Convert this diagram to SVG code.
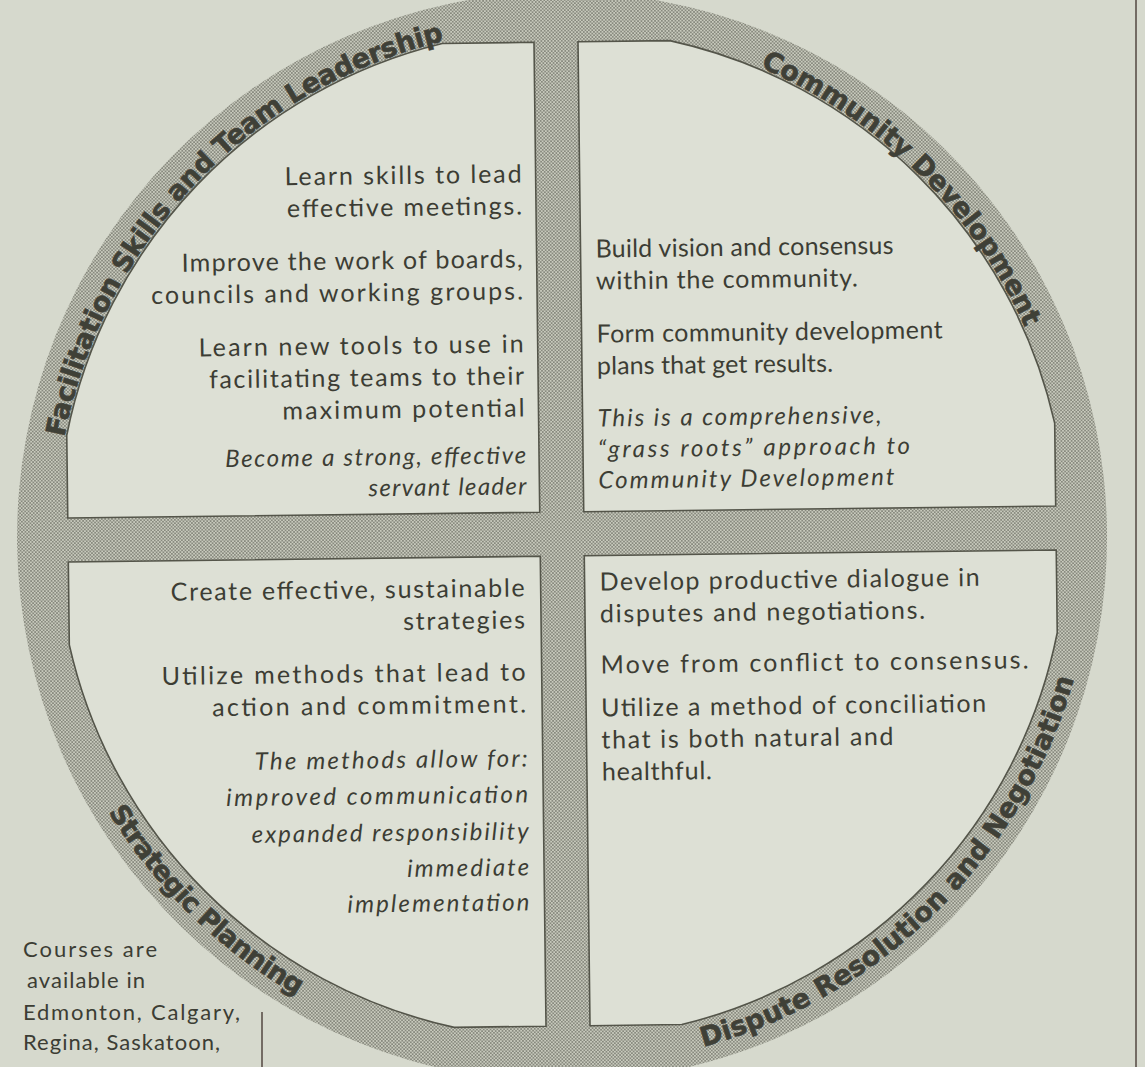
<svg xmlns="http://www.w3.org/2000/svg" xmlns:xlink="http://www.w3.org/1999/xlink" width="1145" height="1067" viewBox="0 0 1145 1067">
  <defs>
    <!-- halftone screen used for the ring -->
    <pattern id="screen" patternUnits="userSpaceOnUse" width="3.4" height="3.4">
      <rect width="3.4" height="3.4" fill="#c8cabd"/>
      <circle cx="0" cy="0" r="0.78" fill="#6b6c62"/>
      <circle cx="3.4" cy="0" r="0.78" fill="#6b6c62"/>
      <circle cx="0" cy="3.4" r="0.78" fill="#6b6c62"/>
      <circle cx="3.4" cy="3.4" r="0.78" fill="#6b6c62"/>
      <circle cx="1.7" cy="1.7" r="0.78" fill="#6b6c62"/>
    </pattern>
    <!-- baselines for the ring titles -->
    <path id="arcTL" d="M 65.5 431.2 A 507 507 0 0 1 452.3 39.0"/>
    <path id="arcTR" d="M 765.8 69.7 A 507 507 0 0 1 1028.0 334.3"/>
    <path id="arcBL" d="M 105.0 806.4 A 532 532 0 0 0 293.2 993.1"/>
    <path id="arcBR" d="M 697.0 1048.6 A 532 532 0 0 0 1072.9 682.4"/>
  </defs>
  <style>
    .quad { fill: #dde0d5; stroke: #54554a; stroke-width: 1.6; }
    .ring-title { font-family: "DejaVu Sans", "Liberation Sans", sans-serif; font-weight: bold; font-size: 27px; fill: #3f4037; stroke: #3f4037; stroke-width: 0.6; }
    .body { font-family: Lato, "Open Sans", "Liberation Sans", sans-serif; font-size: 25px; fill: #3c3d34; }
    .it { font-style: italic; font-size: 24px; }
    .end { text-anchor: end; }
    .note { font-family: Lato, "Open Sans", "Liberation Sans", sans-serif; font-size: 22px; fill: #3c3d34; }
    .rule { stroke: #5b5049; stroke-width: 1.6; fill: none; }
  </style>

  <!-- paper -->
  <rect width="1145" height="1067" fill="#d6d9cd"/>

  <g transform="rotate(-0.7 562 534)">
    <!-- screened disc behind the four panels -->
    <circle id="ring" cx="562" cy="537" r="545" fill="url(#screen)"/>

    <g id="panel-facilitation">
      <path class="quad" d="M 540 42 L 448.2 42 A 505 505 0 0 0 68 429.2 L 68 512 L 540 512 Z"/>
      <text class="ring-title"><textPath xlink:href="#arcTL" textLength="580" lengthAdjust="spacing">Facilitation Skills and Team Leadership</textPath></text>
      <text class="body end" x="526" y="182" textLength="237" lengthAdjust="spacing">Learn skills to lead</text>
      <text class="body end" x="526" y="214" textLength="235" lengthAdjust="spacing">effective meetings.</text>
      <text class="body end" x="526" y="267" textLength="341" lengthAdjust="spacing">Improve the work of boards,</text>
      <text class="body end" x="526" y="299" textLength="372" lengthAdjust="spacing">councils and working groups.</text>
      <text class="body end" x="526" y="352" textLength="325" lengthAdjust="spacing">Learn new tools to use in</text>
      <text class="body end" x="526" y="384" textLength="315" lengthAdjust="spacing">facilitating teams to their</text>
      <text class="body end" x="526" y="416" textLength="242" lengthAdjust="spacing">maximum potential</text>
      <text class="body it end" x="527" y="463" textLength="301" lengthAdjust="spacing">Become a strong, effective</text>
      <text class="body it end" x="527" y="494" textLength="158" lengthAdjust="spacing">servant leader</text>
    </g>

    <g id="panel-community">
      <path class="quad" d="M 584 42 L 675.8 42 A 505 505 0 0 1 1056 429.2 L 1056 512 L 584 512 Z"/>
      <text class="ring-title"><textPath xlink:href="#arcTR" textLength="380" lengthAdjust="spacing">Community Development</textPath></text>
      <text class="body" x="599" y="258" textLength="298" lengthAdjust="spacing">Build vision and consensus</text>
      <text class="body" x="599" y="290" textLength="262" lengthAdjust="spacing">within the community.</text>
      <text class="body" x="599" y="343" textLength="346" lengthAdjust="spacing">Form community development</text>
      <text class="body" x="599" y="375" textLength="236" lengthAdjust="spacing">plans that get results.</text>
      <text class="body it" x="599" y="427" textLength="284" lengthAdjust="spacing">This is a comprehensive,</text>
      <text class="body it" x="599" y="458" textLength="312" lengthAdjust="spacing">“grass roots” approach to</text>
      <text class="body it" x="599" y="489" textLength="296" lengthAdjust="spacing">Community Development</text>
    </g>

    <g id="panel-strategic">
      <path class="quad" d="M 540 556 L 68 556 L 68 638.8 A 505 505 0 0 0 448.2 1026 L 540 1026 Z"/>
      <text class="ring-title"><textPath xlink:href="#arcBL" textLength="266" lengthAdjust="spacing">Strategic Planning</textPath></text>
      <text class="body end" x="524" y="596" textLength="354" lengthAdjust="spacing">Create effective, sustainable</text>
      <text class="body end" x="524" y="628" textLength="122" lengthAdjust="spacing">strategies</text>
      <text class="body end" x="524" y="680" textLength="364" lengthAdjust="spacing">Utilize methods that lead to</text>
      <text class="body end" x="524" y="712" textLength="314" lengthAdjust="spacing">action and commitment.</text>
      <text class="body it end" x="525" y="766" textLength="273" lengthAdjust="spacing">The methods allow for:</text>
      <text class="body it end" x="525" y="802" textLength="302" lengthAdjust="spacing">improved communication</text>
      <text class="body it end" x="525" y="839" textLength="277" lengthAdjust="spacing">expanded responsibility</text>
      <text class="body it end" x="525" y="875" textLength="122" lengthAdjust="spacing">immediate</text>
      <text class="body it end" x="525" y="910" textLength="182" lengthAdjust="spacing">implementation</text>
    </g>

    <g id="panel-dispute">
      <path class="quad" d="M 584 556 L 1056 556 L 1056 638.8 A 505 505 0 0 1 675.8 1026 L 584 1026 Z"/>
      <text class="ring-title"><textPath xlink:href="#arcBR" textLength="546" lengthAdjust="spacing">Dispute Resolution and Negotiation</textPath></text>
      <text class="body" x="599" y="591" textLength="380" lengthAdjust="spacing">Develop productive dialogue in</text>
      <text class="body" x="599" y="623" textLength="325" lengthAdjust="spacing">disputes and negotiations.</text>
      <text class="body" x="599" y="674" textLength="428" lengthAdjust="spacing">Move from conflict to consensus.</text>
      <text class="body" x="599" y="717" textLength="385" lengthAdjust="spacing">Utilize a method of conciliation</text>
      <text class="body" x="599" y="749" textLength="292" lengthAdjust="spacing">that is both natural and</text>
      <text class="body" x="599" y="781" textLength="110" lengthAdjust="spacing">healthful.</text>
    </g>
  </g>

  <!-- locations note and page rules -->
  <g id="note">
    <text class="note" x="23" y="957" textLength="134" lengthAdjust="spacing">Courses are</text>
    <text class="note" x="27" y="988" textLength="118" lengthAdjust="spacing">available in</text>
    <text class="note" x="23" y="1020" textLength="217" lengthAdjust="spacing">Edmonton, Calgary,</text>
    <text class="note" x="23" y="1050" textLength="197" lengthAdjust="spacing">Regina, Saskatoon,</text>
  </g>
  <g id="rules">
    <line class="rule" x1="262" y1="1012" x2="262" y2="1067"/>
    <line class="rule" x1="1136" y1="0" x2="1136" y2="1067"/>
  </g>
</svg>
